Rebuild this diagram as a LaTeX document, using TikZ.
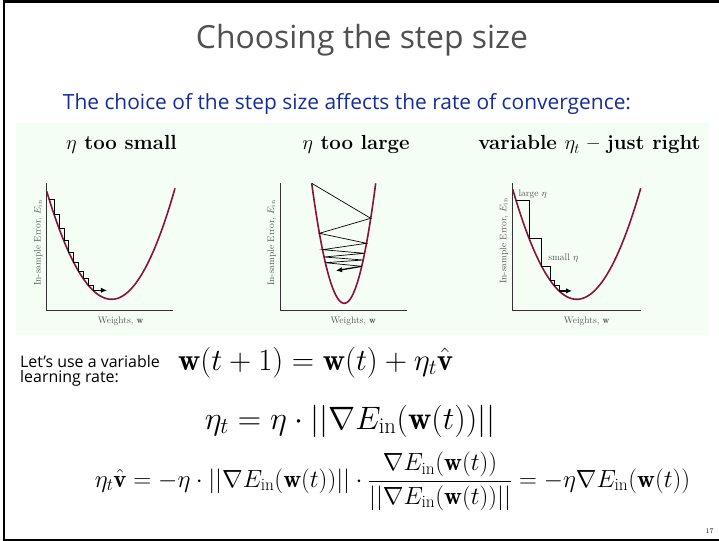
\RequirePackage{fix-cm}
\documentclass[tikz,border=0pt]{standalone}
\usepackage{fontspec}
\newfontfamily\comic{Open Sans}
\usetikzlibrary{arrows.meta}
\definecolor{panelbg}{RGB}{245,254,245}
\definecolor{curvecol}{RGB}{140,16,60}
\definecolor{titlecol}{RGB}{80,80,80}
\definecolor{subcol}{RGB}{22,45,150}
\definecolor{axlabel}{RGB}{85,85,85}
\begin{document}
\begin{tikzpicture}[x=1bp,y=-1bp,
  declare function={
    fa(\x)=299.3-((\x<111.7)?0.02556:0.0277)*(\x-111.7)*(\x-111.7);
    fc(\x)=299.3-((\x<576.7)?0.02686:0.0271)*(\x-576.7)*(\x-576.7);
    fb(\x)=303.3-((\x<344.3)?0.1129:0.1217)*(\x-344.3)*(\x-344.3);
    lb(\y)=344.3-sqrt((303.3-\y)/0.1129);
    rb(\y)=344.3+sqrt((303.3-\y)/0.1217);
  },
  curve/.style={draw=curvecol,line width=1.6bp},
  axis/.style={draw=black!80,line width=0.8bp},
  stair/.style={draw=black,line width=0.7bp},
  garrow/.style={draw=black,line width=1.3bp,-{Latex[length=6bp,width=5.5bp]}},
  axtext/.style={text=axlabel,font=\fontsize{9.5}{10}\selectfont,inner sep=0pt},
  head/.style={font=\fontsize{20.5}{24}\selectfont\bfseries,inner sep=0pt,anchor=base},
  eq/.style={inner sep=0pt,anchor=base},
  side/.style={font=\comic\fontsize{16}{15}\selectfont,inner sep=0pt,anchor=base west}
]
\useasboundingbox (0,0) rectangle (719,541);
\fill[white] (0,0) rectangle (719,541);
% frame
\draw[line width=2.7bp] (4,541) -- (4,1.5) -- (719,1.5);
\draw[line width=2.2bp] (4,540) -- (719,540);
% title
\node[text=titlecol,font=\comic\fontsize{32}{36}\selectfont,inner sep=0pt] (title) at (362,40) {Choosing the step size};
\node[text=subcol,font=\comic\fontsize{21}{24}\selectfont,inner sep=0pt] (sub) at (347,104) {The choice of the step size affects the rate of convergence:};
% panel
\fill[panelbg] (16,123) rectangle (709,335);
\node[head] (h1) at (121.5,150) {$\eta$ too small};
\node[head] (h2) at (356,150) {$\eta$ too large};
\node[head] (h3) at (589.5,150) {variable $\eta_t$ -- just right};

% ---- plot 1
\draw[axis] (46.7,183.3) -- (46.7,310.5) -- (173.3,310.5);
\node[axtext,rotate=90] (y1) at (38.3,243) {In-sample Error, $E_{\mathrm{in}}$};
\node[axtext] (x1) at (120.7,321) {Weights, $\mathbf{w}$};
\draw[curve] plot[domain=46.7:175,samples=90] (\x,{fa(\x)});
\draw[stair] (49.3,{fa(49.3)}) \foreach \i in {1,...,9} { -| ({49.3+4.85*\i},{fa(49.3+4.85*\i)}) };
\draw[garrow] ({49.3+4.85*9},{fa(49.3+4.85*9)}) -- ++(14,0);

% ---- plot 2
\draw[axis] (280,183.3) -- (280,310.7) -- (406.7,310.7);
\node[axtext,rotate=90] (y2) at (271.7,243) {In-sample Error, $E_{\mathrm{in}}$};
\node[axtext] (x2) at (353.3,321) {Weights, $\mathbf{w}$};
\draw[curve] plot[domain=311.7:375.7,samples=90] (\x,{fb(\x)});
\draw[stair] ({lb(183.3)},183.3) -- ({rb(218.3)},218.3) -- ({lb(233.3)},233.3)
  -- ({rb(243.3)},243.3) -- ({lb(249.7)},249.7) -- ({rb(253.3)},253.3)
  -- ({lb(257)},257) -- ({rb(260)},260) -- ({lb(262.7)},262.7) -- ({rb(266.3)},266.3);
\draw[garrow] ({rb(266.3)},266.3) -- (336,270.7);

% ---- plot 3
\draw[axis] (512.7,183.3) -- (512.7,310.7) -- (640.7,310.7);
\node[axtext,rotate=90] (y3) at (504,241) {In-sample Error, $E_{\mathrm{in}}$};
\node[axtext] (x3) at (586.7,321) {Weights, $\mathbf{w}$};
\draw[curve] plot[domain=512.7:640.7,samples=90] (\x,{fc(\x)});
\draw[stair] (516,{fc(516)}) -| (529,{fc(529)}) -| (541.7,{fc(541.7)}) -| (550,{fc(550)})
  -| (554.3,{fc(554.3)}) -| (559,{fc(559)});
\draw[garrow] (559,{fc(559)}) -- ++(13,0);
\node[axtext] (lg) at (532.7,194.3) {large $\eta$};
\node[axtext] (sm) at (563.3,257.7) {small $\eta$};

% ---- bottom
\node[side] (lets1) at (20,367) {Let’s use a variable};
\node[side] (lets2) at (20,382) {learning rate:};
\node[eq,anchor=base west,font=\fontsize{31}{34}\selectfont] (e1) at (178,370) {$\mathbf{w}(t+1)=\mathbf{w}(t)+\eta_t\hat{\mathbf{v}}$};
\node[eq,font=\fontsize{32.5}{36}\selectfont] (e2) at (350,429) {$\eta_t=\eta\cdot||\nabla E_{\mathrm{in}}(\mathbf{w}(t))||$};
\node[inner sep=0pt,font=\fontsize{24.9}{28}\selectfont] (e3) at (392.5,481) {$\displaystyle \eta_t\hat{\mathbf{v}}=-\eta\cdot||\nabla E_{\mathrm{in}}(\mathbf{w}(t))||\cdot\frac{\nabla E_{\mathrm{in}}(\mathbf{w}(t))}{||\nabla E_{\mathrm{in}}(\mathbf{w}(t))||}=-\eta\nabla E_{\mathrm{in}}(\mathbf{w}(t))$};
\node[font=\fontsize{7}{8}\selectfont,inner sep=0pt] (pg) at (709.5,531) {17};
\end{tikzpicture}
\end{document}
